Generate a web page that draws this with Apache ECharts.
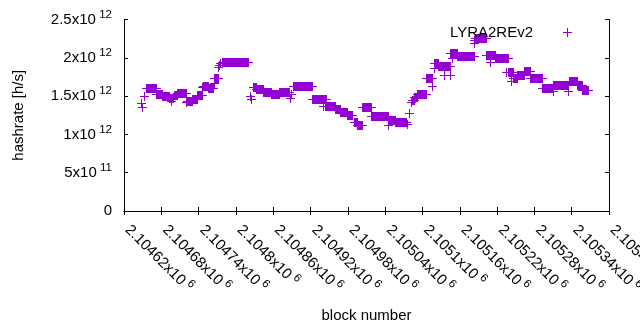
<!doctype html>
<html>
<head>
<meta charset="UTF-8">
<title>hashrate</title>
<script src="https://cdn.jsdelivr.net/npm/echarts@6/dist/echarts.min.js"></script>
<style>
  html, body { margin: 0; padding: 0; background: #fff; }
  #chart { width: 640px; height: 330px; }
</style>
</head>
<body>
<div id="chart"></div>
<script>
// runs of blocks with the same estimated hashrate (one "+" per block)
var runStart = [2104647, 2104649, 2104652, 2104655, 2104671, 2104681, 2104693, 2104696, 2104700, 2104706,
                2104720, 2104721, 2104730, 2104738, 2104746, 2104747, 2104755, 2104765, 2104765, 2104771,
                2104773, 2104774, 2104777, 2104822, 2104825, 2104827, 2104832, 2104843, 2104856, 2104870,
                2104887, 2104888, 2104892, 2104923, 2104940, 2104944, 2104960, 2104967, 2104978, 2104990,
                2104995, 2105003, 2105017, 2105044, 2105045, 2105056, 2105075, 2105079, 2105081, 2105083,
                2105086, 2105091, 2105105, 2105116, 2105118, 2105118, 2105125, 2105135, 2105145, 2105145,
                2105147, 2105156, 2105183, 2105183, 2105184, 2105202, 2105208, 2105216, 2105235, 2105237,
                2105242, 2105245, 2105252, 2105264, 2105273, 2105292, 2105310, 2105310, 2105334, 2105336,
                2105348, 2105357];
var runEnd   = [2104647, 2104649, 2104652, 2104671, 2104681, 2104692, 2104699, 2104696, 2104705, 2104719,
                2104720, 2104729, 2104737, 2104746, 2104746, 2104755, 2104763, 2104765, 2104771, 2104771,
                2104773, 2104774, 2104820, 2104822, 2104825, 2104832, 2104843, 2104856, 2104870, 2104885,
                2104887, 2104888, 2104923, 2104945, 2104940, 2104960, 2104967, 2104978, 2104986, 2104995,
                2105003, 2105017, 2105044, 2105056, 2105045, 2105074, 2105075, 2105079, 2105081, 2105086,
                2105091, 2105105, 2105116, 2105116, 2105125, 2105118, 2105145, 2105135, 2105145, 2105156,
                2105147, 2105183, 2105183, 2105183, 2105202, 2105216, 2105208, 2105237, 2105235, 2105245,
                2105242, 2105252, 2105264, 2105273, 2105293, 2105310, 2105310, 2105334, 2105334, 2105348,
                2105357, 2105367];
var runValue = [1.410e12, 1.364e12, 1.505e12, 1.602e12, 1.527e12, 1.501e12, 1.469e12, 1.436e12, 1.514e12, 1.540e12,
                1.427e12, 1.436e12, 1.456e12, 1.514e12, 1.623e12, 1.632e12, 1.602e12, 1.671e12, 1.740e12, 1.880e12,
                1.906e12, 1.932e12, 1.941e12, 1.505e12, 1.462e12, 1.615e12, 1.593e12, 1.557e12, 1.524e12, 1.554e12,
                1.471e12, 1.524e12, 1.632e12, 1.458e12, 1.367e12, 1.367e12, 1.332e12, 1.286e12, 1.249e12, 1.162e12,
                1.127e12, 1.354e12, 1.240e12, 1.192e12, 1.123e12, 1.166e12, 1.140e12, 1.279e12, 1.423e12, 1.449e12,
                1.488e12, 1.524e12, 1.732e12, 1.628e12, 1.936e12, 1.871e12, 1.889e12, 1.775e12, 1.775e12, 2.063e12,
                2.001e12, 2.020e12, 2.228e12, 2.193e12, 2.255e12, 2.037e12, 1.941e12, 2.001e12, 1.811e12, 1.811e12,
                1.697e12, 1.736e12, 1.775e12, 1.824e12, 1.732e12, 1.602e12, 1.567e12, 1.645e12, 1.567e12, 1.693e12,
                1.641e12, 1.586e12];

var seriesName = 'LYRA2REv2';
var xMin = 2104620, xMax = 2105400, xStep = 60;
var yMin = 0, yMax = 2.5e12, yStep = 5e11;

var purple = '#9400d3';
var font = 'Liberation Sans';

// "2.5x10 ^12" style labels like gnuplot
function sci(v) {
  if (v === 0) return '{m|0}';
  var e = Math.floor(Math.log10(v) + 1e-9);
  var m = +(v / Math.pow(10, e)).toPrecision(6);
  return '{m|' + m + 'x10} {e|' + e + '}';
}
var richSci = {
  m: { fontSize: 15, fontFamily: font, color: '#000' },
  e: { fontSize: 11.5, fontFamily: font, color: '#000', padding: [0, 0, 10, 0] }
};

var data = runStart.map(function (s, i) { return [s, runEnd[i], runValue[i]]; });

var chart = echarts.init(document.getElementById('chart'), null, { renderer: 'canvas' });
chart.setOption({
  animation: false,
  backgroundColor: '#fff',
  grid: { left: 124, right: 31, top: 19.5, bottom: 119, outerBoundsMode: 'none' },
  legend: {
    data: [{ name: seriesName, icon: 'path://M0,3.5H8V4.5H0Z M3.5,0H4.5V8H3.5Z' }],
    right: 63,
    top: 20,
    align: 'right',
    itemWidth: 9,
    itemHeight: 9,
    itemStyle: { color: purple },
    textStyle: { fontSize: 15, fontFamily: font, color: '#000', padding: [0, 25, 0, 0] }
  },
  xAxis: [{
    type: 'value',
    min: xMin, max: xMax, interval: xStep,
    name: 'block number',
    nameLocation: 'middle',
    nameGap: 97,
    nameMoveOverlap: false,
    nameTextStyle: { fontSize: 15, fontFamily: font, color: '#000' },
    axisLine: { show: true, lineStyle: { color: '#000', width: 1 } },
    axisTick: { show: true, inside: true, length: 4, lineStyle: { color: '#000' } },
    splitLine: { show: false },
    axisLabel: {
      rotate: -45, margin: 13, padding: [0, 0, 0, 5],
      showMinLabel: true, showMaxLabel: true, hideOverlap: false,
      formatter: sci, rich: richSci
    }
  }, {
    type: 'value', position: 'top',
    min: xMin, max: xMax, interval: xStep,
    axisLine: { show: true, lineStyle: { color: '#000', width: 1 } },
    axisTick: { show: true, inside: true, length: 4, lineStyle: { color: '#000' } },
    axisLabel: { show: false },
    splitLine: { show: false }
  }],
  yAxis: [{
    type: 'value',
    min: yMin, max: yMax, interval: yStep,
    name: 'hashrate [h/s]',
    nameLocation: 'middle',
    nameGap: 98,
    nameMoveOverlap: false,
    nameTextStyle: { fontSize: 15, fontFamily: font, color: '#000' },
    axisLine: { show: true, lineStyle: { color: '#000', width: 1 } },
    axisTick: { show: true, inside: true, length: 4, lineStyle: { color: '#000' } },
    splitLine: { show: false },
    axisLabel: { margin: 12, formatter: sci, rich: richSci }
  }, {
    type: 'value', position: 'right',
    min: yMin, max: yMax, interval: yStep,
    axisLine: { show: true, lineStyle: { color: '#000', width: 1 } },
    axisTick: { show: true, inside: true, length: 4, lineStyle: { color: '#000' } },
    axisLabel: { show: false },
    splitLine: { show: false }
  }],
  series: [{
    name: seriesName,
    type: 'custom',
    xAxisIndex: 0,
    yAxisIndex: 0,
    encode: { x: [0, 1], y: 2 },
    itemStyle: { color: purple },
    data: data,
    renderItem: function (params, api) {
      var a = api.coord([api.value(0), api.value(2)]);
      var b = api.coord([api.value(1), api.value(2)]);
      var x0 = Math.round(a[0]), x1 = Math.round(b[0]), y = Math.round(a[1]);
      var h = 4;
      return {
        type: 'group',
        children: [
          { type: 'rect', shape: { x: x0, y: y - h, width: x1 - x0 + 1, height: 2 * h + 1 }, style: { fill: purple } },
          { type: 'rect', shape: { x: x0 - h, y: y, width: x1 - x0 + 2 * h + 1, height: 1 }, style: { fill: purple } }
        ]
      };
    }
  }]
});
</script>
</body>
</html>
